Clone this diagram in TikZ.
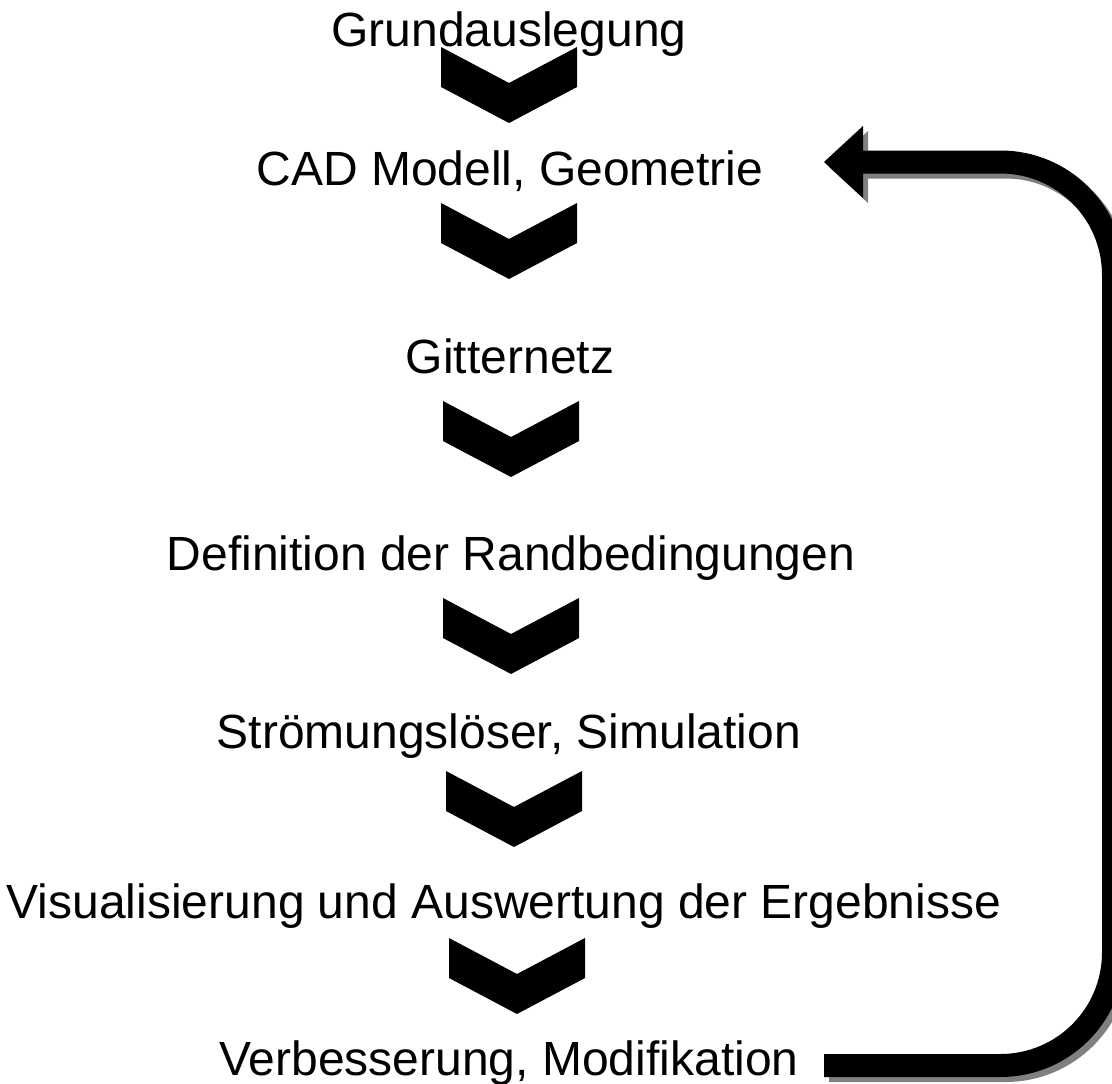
\documentclass[tikz,border=0pt]{standalone}
\usepackage{fontspec}
\setmainfont{Liberation Sans}
\definecolor{shadowgray}{RGB}{128,128,128}
\begin{document}
\begin{tikzpicture}[x=1pt,y=-1pt,
  lbl/.style={anchor=base,inner sep=0pt,font=\fontsize{48}{52}\selectfont},
  chev/.pic={\fill[black] (-68,0) -- (0,36) -- (68,0) -- (68,40) -- (0,76) -- (-68,40) -- cycle;}]
\useasboundingbox (0,0) rectangle (1112,1084);
\clip (0,0) rectangle (1112,1084);
% labels
\node[lbl] (n1) at (509,46)   {Grundauslegung};
\node[lbl] (n2) at (510,185) {CAD Modell, Geometrie};
\node[lbl] (n3) at (510,373)  {Gitternetz};
\node[lbl] (n4) at (511,570)  {Definition der Randbedingungen};
\node[lbl] (n5) at (509,748) {Strömungslöser, Simulation};
\node[lbl] (n6) at (504,918) {Visualisierung und Auswertung der Ergebnisse};
\node[lbl] (n7) at (509,1075) {Verbesserung, Modifikation};
% chevrons
\pic at (509,47)  {chev};
\pic at (509,203) {chev};
\pic at (511,401) {chev};
\pic at (511,598) {chev};
\pic at (514,771) {chev};
\pic at (517,938) {chev};
% feedback arrow
\coordinate (fbs) at (824,1065.5);
\coordinate (fbc) at (1113.5,162);
\coordinate (fbe) at (863,162);
\draw[shadowgray,line width=23pt,rounded corners=113pt]
  ([shift={(5,5)}]fbs) -| ([shift={(5,5)}]fbc) -- ([shift={(5,5)}]fbe);
\fill[shadowgray] ([shift={(5,5)}]fbe) ++(-39,0) -- ++(39,36) -- ++(0,-72) -- cycle;
\draw[black,line width=23pt,rounded corners=113pt] (fbs) -| (fbc) -- (fbe);
\fill[black] (fbe) ++(-39,0) -- ++(39,36) -- ++(0,-72) -- cycle;
\end{tikzpicture}
\end{document}
